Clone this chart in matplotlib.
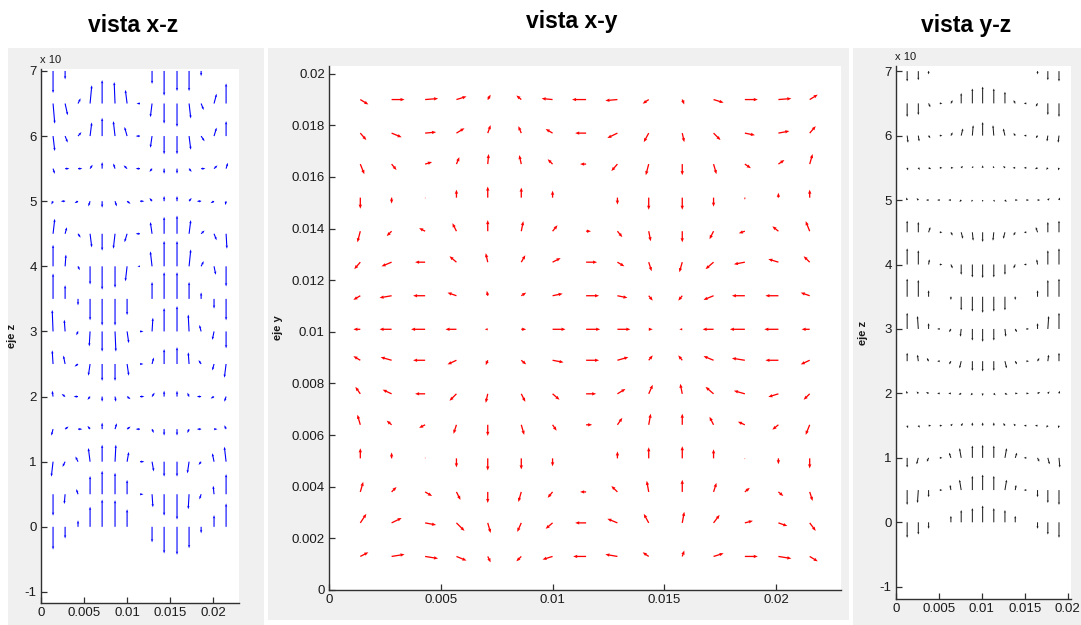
import numpy as np
import matplotlib
matplotlib.use("Agg")
import matplotlib.pyplot as plt
from matplotlib.patches import Rectangle

plt.rcParams['font.family'] = ['Liberation Sans', 'DejaVu Sans']

W, H = 1081, 625

# ---------------- data ----------------
titles = ["vista x-z", "vista x-y", "vista y-z"]
x_grid = [0.0014, 0.0028, 0.0043, 0.0057, 0.0071, 0.0086, 0.0100, 0.0115,
          0.0129, 0.0143, 0.0158, 0.0172, 0.0186, 0.0201, 0.0215]
y_grid = [0.0013, 0.0026, 0.0038, 0.0051, 0.0064, 0.0076, 0.0089, 0.0101,
          0.0114, 0.0127, 0.0139, 0.0152, 0.0165, 0.0177, 0.0190]
z_grid = [0.0, 0.5, 1.0, 1.5, 2.0, 2.5, 3.0, 3.5, 4.0, 4.5, 5.0, 5.5, 6.0, 6.5, 7.0]

# vista x-z : rows listed from top (z=7) to bottom (z=0)
# U in 1e-4 (x units), V in 0.01 (z units)
U_xz = [
    [0, 0, 0, 0, 0, 0, 0, 0, 0, 0, 0, 0, 0, 0, 0],
    [2, 3, 3, 2, 0, -1, -2, -4, -2, 0, 0, 2, 3, 3, 0],
    [2, 3, 4, 2, 0, -2, -3, -5, -2, 0, 0, 2, 4, 3, 0],
    [2, 5, 5, 3, 0, -2, -4, -5, -3, 0, 0, 3, 5, 4, 2],
    [-2, -5, -4, -2, 0, 2, 4, 5, -3, 0, 0, 3, -5, -4, -1],
    [2, 2, 3, 2, 0, -2, -3, -5, -2, 0, 0, 2, 4, 3, 1],
    [0, 1, 2, 0, 0, 0, -2, -3, -2, 0, 0, 2, 3, 2, 0],
    [0, 0, 0, 0, 0, 0, 0, 0, 0, 0, 0, 0, 0, 0, 0],
    [-1, -1, -2, -1, 0, 1, 2, 4, 1, 0, 0, -1, -2, -2, 0],
    [-1, -2, -4, -2, 0, 0, 2, 4, 2, 0, 0, -1, -3, -2, -2],
    [-1, -4, -5, -3, 0, 1, 4, 5, 3, 0, 0, -2, -5, -4, -2],
    [-2, 4, 5, -3, 0, 2, 4, -5, 2, 0, 0, -2, -5, 4, -2],
    [-2, -3, -3, -2, 0, 1, 2, 5, 2, 0, 0, -2, -3, -2, -2],
    [0, -1, -2, 0, 0, 0, 0, 4, 1, 0, 0, -1, -2, -1, 0],
    [0, 0, 0, 0, 0, 0, 0, 0, 0, 0, 0, 0, 0, 0, 0],
]
V_xz = [
    [-34, -13, 0, 0, 0, 0, 0, 0, -20, -38, -31, -31, -8, 0, 0],
    [-31, -18, 8, 28, 36, 33, 21, 0, -21, -31, -36, -23, -10, 15, 31],
    [-23, -10, 6, 21, 28, 23, 14, 0, -18, -28, -28, -21, -8, 13, 23],
    [-8, 0, 0, 6, 10, 8, 5, 0, -5, -8, -8, -5, 0, 5, 9],
    [-5, 0, -3, -8, -10, -8, -4, 0, 5, 8, 8, 5, 0, -3, -6],
    [23, 10, -6, -21, -26, -23, -13, 0, 18, 26, 28, 21, 5, -10, -23],
    [33, 18, -6, -28, -36, -33, -23, 0, 23, 39, 39, 26, 8, -13, -31],
    [39, 21, -10, -33, -41, -41, -25, 0, 26, 41, 41, 26, 10, -15, -33],
    [33, 18, -6, -23, -31, -31, -18, 0, 21, 36, 39, 26, 10, -13, -26],
    [21, 13, -4, -18, -26, -26, -18, 0, 10, 23, 26, 18, 6, -10, -21],
    [9, 4, 0, -5, -8, -8, -4, 0, 6, 9, 9, 6, 0, -3, -8],
    [-10, 4, 0, 5, 10, 9, 4, 0, -6, -10, -10, -6, 0, 0, 6],
    [-23, -8, 8, 21, 26, 26, 15, 0, -15, -23, -23, -18, -5, 13, 23],
    [-33, -15, 8, 28, 36, 33, 22, 0, -20, -33, -39, -23, -8, 13, 31],
    [-35, -18, 10, 31, 42, 41, 27, 0, -24, -41, -43, -33, -10, 18, 36],
]

# vista x-y : rows from top (y=0.019) to bottom (y=0.0013), units 1e-5
U_xy = [
    [36, 58, 58, 45, 13, -22, -49, -63, -54, -27, 9, 45, 58, 58, 36],
    [27, 45, 49, 36, 13, -13, -31, -49, -45, -22, 9, 31, 45, 49, 27],
    [18, 22, 31, 13, 4, -9, -22, -27, -27, -13, 0, 13, 27, 27, 13],
    [0, 0, 0, 0, 0, 0, 0, 0, 0, 0, 0, 0, 0, 0, 0],
    [-13, -22, -27, -18, 0, 9, 22, 22, 22, 9, 0, -18, -27, -27, -18],
    [-27, -45, -45, -31, -9, 18, 36, 49, 31, 13, -13, -36, -49, -45, -27],
    [-31, -54, -54, -40, -4, 22, 45, 58, 45, 18, -18, -45, -58, -58, -40],
    [-31, -54, -63, -49, -13, 22, 58, 63, 58, 18, -13, -49, -67, -63, -36],
    [-31, -49, -54, -40, -9, 22, 49, 58, 49, 18, -18, -45, -58, -58, -40],
    [-22, -40, -45, -31, -9, 18, 31, 45, 36, 18, -9, -36, -49, -45, -27],
    [-13, -22, -27, -13, 0, 13, 18, 27, 22, 9, 0, -18, -31, -27, -18],
    [0, 0, 0, 0, 0, 0, 0, 0, 0, 0, 0, 0, 0, 0, 0],
    [13, 22, 31, 18, 0, -13, -22, -27, -27, -9, 0, 13, 22, 22, 13],
    [27, 45, 49, 36, 13, -18, -31, -49, -45, -22, 9, 27, 36, 40, 27],
    [36, 58, 58, 45, 13, -22, -45, -58, -54, -27, 9, 45, 58, 58, 36],
]
V_xy = [
    [-19, 0, 4, 12, 19, 16, 4, 0, -4, -16, -19, -12, 0, 4, 19],
    [-27, -16, 4, 19, 31, 27, 16, 0, -19, -35, -35, -27, -8, 8, 27],
    [-39, -23, 8, 27, 39, 35, 19, 0, -27, -43, -43, -39, -16, 16, 39],
    [-43, -23, -4, 31, 43, 39, 27, 0, -27, -47, -47, -35, -8, 19, 31],
    [-43, -19, 12, 31, 43, 39, 23, 0, -23, -39, -43, -31, -8, 19, 39],
    [-27, -16, 0, 23, 35, 27, 16, 0, -16, -35, -39, -27, -8, 12, 23],
    [-16, -8, 0, 12, 19, 12, 8, 0, -8, -19, -19, -16, 0, 0, 12],
    [0, 0, 0, 0, 0, 0, 0, 0, 0, 0, 0, 0, 0, 0, 0],
    [16, 12, 0, -16, -19, -16, -8, 0, 12, 19, 19, 16, 8, 0, -16],
    [27, 16, 0, -27, -35, -31, -23, 0, 19, 35, 39, 27, 12, -12, -23],
    [39, 16, -12, -35, -43, -39, -23, 0, 27, 43, 43, 31, 12, -19, -39],
    [39, 23, 4, -35, -47, -43, -31, 0, 27, 43, 47, 35, -4, -23, -39],
    [39, 19, -16, -31, -43, -39, -23, 0, 23, 43, 47, 35, 16, -16, -35],
    [35, 19, -8, -31, -39, -35, -23, 0, 16, 35, 43, 31, 8, -12, -31],
    [16, 8, -8, -16, -23, -19, -12, 0, 8, 16, 23, 12, 0, -8, -19],
]

# vista y-z : rows from top (z=7) to bottom (z=0); U in 1e-4, V in 0.01
U_yz = [
    [0, 0, 0, 0, 0, 0, 0, 0, 0, 0, 0, 0, 0, 0, 0],
    [0, 0, 2, 3, 2, 0, 0, 0, 0, 0, -2, -3, -2, 0, 0],
    [1, 1, 2, 3, 2, 2, 1, 0, -1, -2, -2, -3, -2, -1, -1],
    [1, 2, 3, 3, 3, 2, 1, 0, -1, -2, -3, -3, -3, -2, -1],
    [-1, -2, -3, -3, -3, -2, -1, 0, 1, 2, 3, 3, 3, 2, 1],
    [0, 0, 2, 3, 2, 2, 1, 0, -1, -2, -2, -3, -2, 0, 0],
    [0, 0, 1, 3, 2, 0, 0, 0, 0, 0, -2, -3, -1, 0, 0],
    [0, 0, 0, 0, 0, 0, 0, 0, 0, 0, 0, 0, 0, 0, 0],
    [0, -1, 0, -3, -2, -1, 0, 0, 0, 1, 2, 3, 0, 1, 0],
    [0, -1, -2, -3, -2, -2, 0, 0, 0, 2, 2, 3, 2, 1, 0],
    [-1, -2, -3, -3, -3, -3, -2, 0, 2, 3, 3, 3, 3, 2, 1],
    [1, 2, 3, 3, 2, 2, 0, 0, 0, -2, -2, -3, -3, -2, -1],
    [0, -2, -2, 3, -2, -2, 0, 0, 0, 2, 2, -3, 2, 2, 1],
    [0, -1, 0, 3, -1, -2, 0, 0, 0, 2, 1, -3, 0, 0, 0],
    [0, 0, 0, 0, 0, 0, 0, 0, 0, 0, 0, 0, 0, 0, 0],
]
V_yz = [
    [-16, -14, -5, 0, 0, 0, 0, 0, 0, 0, 0, 0, -5, -14, -16],
    [-21, -18, -6, 0, 5, 16, 23, 26, 23, 18, 5, 0, -5, -18, -21],
    [-11, -9, -4, 0, 5, 11, 16, 21, 16, 11, 4, 0, -4, -9, -11],
    [-4, -3, -2, 0, 0, 3, 3, 4, 3, 3, 0, 0, -2, -3, -4],
    [4, 3, 0, 0, 0, -3, -3, -3, -3, -3, 0, 0, 0, 3, 4],
    [18, 16, 8, 0, -5, -10, -13, -15, -13, -10, -5, 0, 8, 16, 18],
    [25, 22, 8, 0, -6, -16, -20, -21, -20, -16, -6, 0, 8, 22, 25],
    [28, 26, 10, 0, -5, -21, -23, -25, -23, -21, -5, 0, 10, 26, 28],
    [25, 20, 9, 0, -5, -12, -18, -20, -18, -12, -5, 0, 9, 20, 25],
    [13, 10, 5, 0, -5, -11, -15, -16, -15, -11, -5, 0, 5, 10, 13],
    [4, 3, 2, 0, 0, -2, -3, -4, -3, -2, 0, 0, 2, 3, 4],
    [-4, -3, 0, 0, 3, 4, 5, 5, 5, 4, 3, 0, 0, -3, -4],
    [-15, -10, -6, 0, 8, 15, 19, 20, 19, 15, 8, 0, -6, -10, -15],
    [-23, -20, -11, 0, 8, 16, 22, 24, 22, 16, 8, 0, -11, -20, -23],
    [-24, -19, -10, 0, 10, 19, 22, 26, 22, 19, 10, 0, -10, -19, -24],
]

xz_xticks = [0, 0.005, 0.01, 0.015, 0.02]
xz_xlabels = ['0', '0.005', '0.01', '0.015', '0.02']
z_ticks = [-1, 0, 1, 2, 3, 4, 5, 6, 7]
z_labels = ['-1', '0', '1', '2', '3', '4', '5', '6', '7']
xy_yticks = [0, 0.002, 0.004, 0.006, 0.008, 0.01, 0.012, 0.014, 0.016, 0.018, 0.02]
xy_ylabels = ['0', '0.002', '0.004', '0.006', '0.008', '0.01', '0.012',
              '0.014', '0.016', '0.018', '0.02']


def grid(rows):
    return np.array(rows[::-1], dtype=float)


fig = plt.figure(figsize=(W / 100, H / 100), dpi=100, facecolor='white')

# gray MATLAB-like panels
for (x0, y0, x1, y1) in [(8, 48, 264, 625), (268, 48, 849, 620), (853, 48, 1081, 625)]:
    fig.patches.append(Rectangle((x0 / W, 1 - y1 / H), (x1 - x0) / W, (y1 - y0) / H,
                                 transform=fig.transFigure, facecolor='#f0f0f0',
                                 edgecolor='none', zorder=-10))


def make_ax(x0, x1, ytop, ybot):
    ax = fig.add_axes([x0 / W, 1 - ybot / H, (x1 - x0) / W, (ybot - ytop) / H])
    ax.set_zorder(5)
    ax.set_facecolor('white')
    for s in ['top', 'right']:
        ax.spines[s].set_visible(False)
    for s in ['left', 'bottom']:
        ax.spines[s].set_color('#303030')
        ax.spines[s].set_linewidth(1.0)
    ax.tick_params(direction='in', length=4, width=0.9, colors='#303030',
                   labelsize=9.5, labelcolor='#1a1a1a', pad=3)
    return ax


qkw = dict(angles='xy', scale_units='xy', scale=1, units='dots', minlength=0, pivot='tail')
lab_kw = dict(fontsize=8, fontweight='bold', color='#1a1a1a')

# ---- left: vista x-z
ax1 = make_ax(41, 239, 69, 603)
X, Z = np.meshgrid(x_grid, z_grid)
ax1.quiver(X, Z, grid(U_xz) * 1e-4, grid(V_xz) * 0.01, color='#0000ff',
           width=1.1, headwidth=2.2, headlength=3, headaxislength=2.6, **qkw)
ax1.set_xlim(0, 0.0230)
ax1.set_ylim(-1.17, 7.03)
ax1.set_xticks(xz_xticks)
ax1.set_xticklabels(xz_xlabels)
ax1.set_yticks(z_ticks)
ax1.set_yticklabels(z_labels)
ax1.set_ylabel('eje z', **lab_kw)
ax1.yaxis.set_label_coords((17 - 41) / 198, 0.5)
fig.text(40 / W, 1 - 63 / H, 'x 10', fontsize=8, color='#1a1a1a', zorder=10)

# ---- middle: vista x-y
ax2 = make_ax(329, 841, 66, 590)
X2, Y2 = np.meshgrid(x_grid, y_grid)
ax2.quiver(X2, Y2, grid(U_xy) * 1e-5, grid(V_xy) * 1e-5, color='#ff0000',
           width=1.3, headwidth=2.6, headlength=3.2, headaxislength=3.0, **qkw)
ax2.set_xlim(0, 0.0229)
ax2.set_ylim(0, 0.0203)
ax2.set_xticks(xz_xticks)
ax2.set_xticklabels(xz_xlabels)
ax2.set_yticks(xy_yticks)
ax2.set_yticklabels(xy_ylabels)
ax2.set_ylabel('eje y', **lab_kw)
ax2.yaxis.set_label_coords((283 - 329) / 512, 0.5)

# ---- right: vista y-z
ax3 = make_ax(896, 1071, 66, 599)
Y3, Z3 = np.meshgrid(y_grid, z_grid)
ax3.quiver(Y3, Z3, grid(U_yz) * 1e-4, grid(V_yz) * 0.01, color='#1a1a1a',
           width=1.0, headwidth=2.2, headlength=2.5, headaxislength=2.2, **qkw)
ax3.set_xlim(0, 0.0204)
ax3.set_ylim(-1.19, 7.08)
ax3.set_xticks(xz_xticks)
ax3.set_xticklabels(xz_xlabels)
ax3.set_yticks(z_ticks)
ax3.set_yticklabels(z_labels)
ax3.set_ylabel('eje z', **lab_kw)
ax3.yaxis.set_label_coords((868 - 896) / 175, 0.5)
fig.text(895 / W, 1 - 60 / H, 'x 10', fontsize=8, color='#1a1a1a', zorder=10)

# titles
for cx, by, t in [(133, 32, titles[0]), (572, 28, titles[1]), (966, 32, titles[2])]:
    fig.text(cx / W, 1 - by / H, t, ha='center', va='baseline',
             fontsize=16.5, fontweight='bold', color='black')

fig.savefig('out.png', dpi=100, facecolor='white')
